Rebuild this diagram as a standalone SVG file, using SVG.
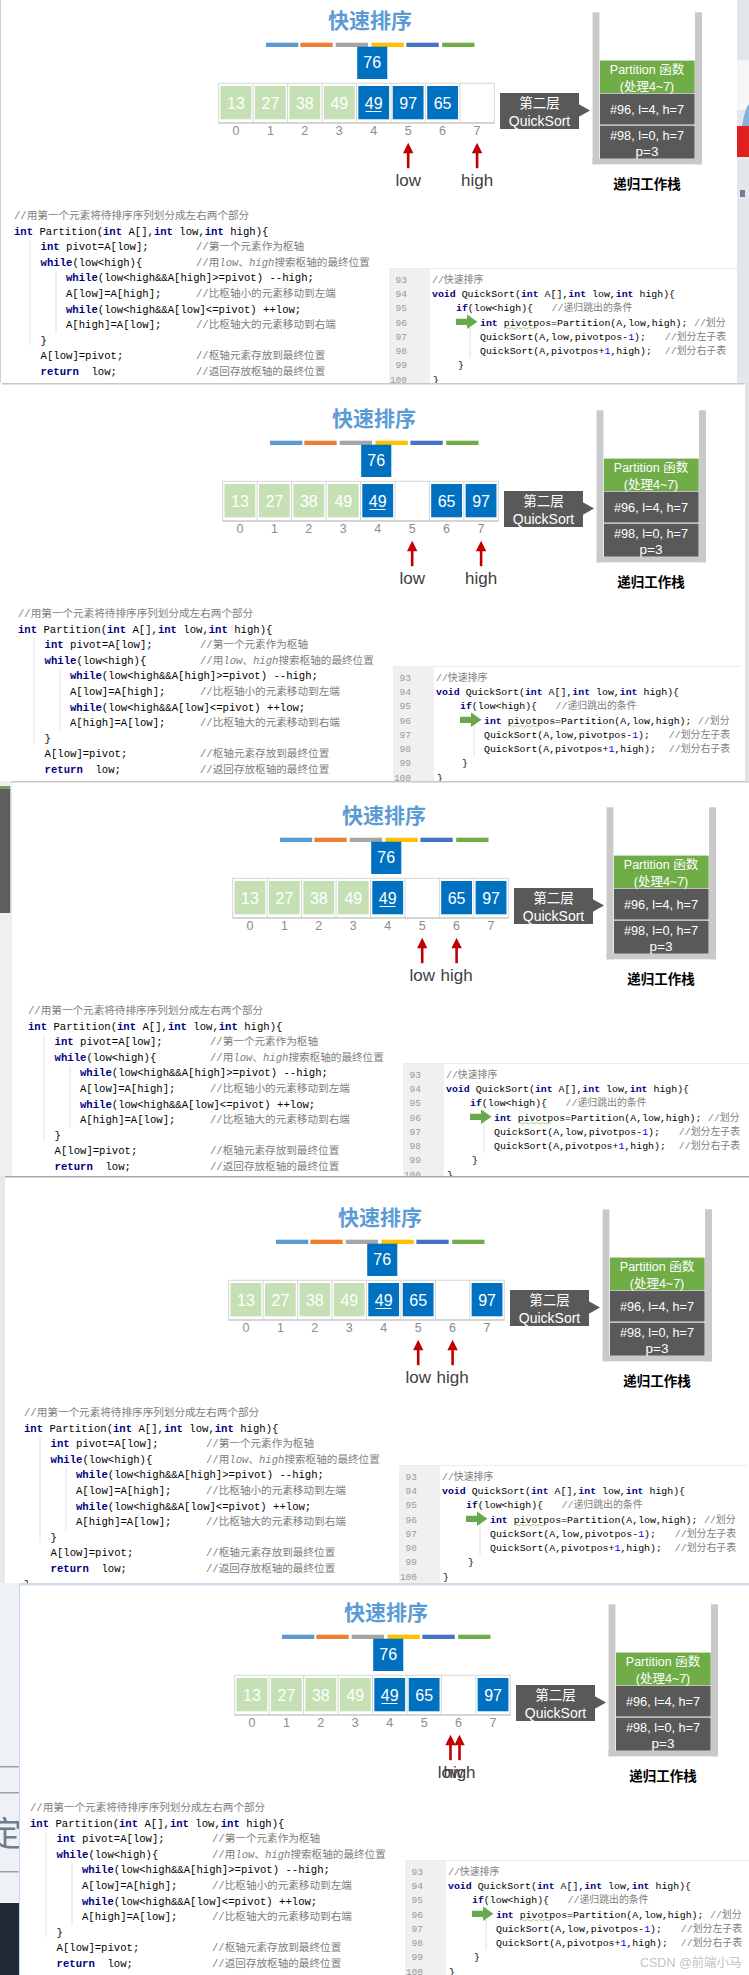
<svg xmlns="http://www.w3.org/2000/svg" xmlns:xlink="http://www.w3.org/1999/xlink" width="749" height="1975" viewBox="0 0 749 1975">
<style>
.sans{font-family:"Liberation Sans","Noto Sans CJK SC",sans-serif}
.title{font-family:"Noto Sans CJK SC",sans-serif;font-size:21px;font-weight:bold;fill:#5b9bd5;text-anchor:middle}
.num{font-family:"Liberation Sans",sans-serif;font-size:16px;fill:#fff;text-anchor:middle}
.idx{font-family:"Liberation Sans",sans-serif;font-size:12.5px;fill:#8c8c8c;text-anchor:middle}
.lbl{font-family:"Liberation Sans",sans-serif;font-size:17px;fill:#404040;text-anchor:middle}
.wt{font-family:"Liberation Sans","Noto Sans CJK SC",sans-serif;fill:#fff;text-anchor:middle}
.stk{font-family:"Noto Sans CJK SC",sans-serif;font-size:13.5px;font-weight:bold;fill:#000;text-anchor:middle}
.code{font-family:"Liberation Mono","Noto Sans CJK SC",monospace;font-size:10.6px;fill:#000;white-space:pre}
.code2{font-family:"Liberation Mono","Noto Sans CJK SC",monospace;font-size:9.9px;fill:#000;white-space:pre}
.kw{fill:#000080;font-weight:bold}
.cm{fill:#808080}
.it{font-style:italic}
.n{fill:#0000ff}
.ln{font-family:"Liberation Mono",monospace;font-size:9.5px;fill:#999;text-anchor:end}
.green{fill:#c5e0b4}
.blue{fill:#0070c0}
.dark{fill:#595959}
.arr{fill:#c00000}
.guide{stroke:#e2e2e2;stroke-width:1}
</style>
<defs>
  <clipPath id="c1"><rect x="0" y="0" width="737" height="383"/></clipPath>
  <clipPath id="c2"><rect x="2" y="383" width="743" height="398"/></clipPath>
  <clipPath id="c3"><rect x="10.5" y="781" width="738.5" height="395"/></clipPath>
  <clipPath id="c4"><rect x="5" y="1176" width="744" height="407"/></clipPath>
  <clipPath id="c5"><rect x="19" y="1583" width="730" height="392"/></clipPath>
  <clipPath id="cl5"><rect x="0" y="1583" width="19" height="392"/></clipPath>
  <g id="upArrow"><polygon points="0,0 -5.2,10.5 5.2,10.5"/><rect x="-1.3" y="9" width="2.6" height="16.5"/></g>
  <g id="tpl">
    <g id="title"><text class="title" x="370" y="28">快速排序</text></g>
    <g id="colorbars">
      <rect x="266" y="42.7" width="32.3" height="4.3" fill="#5b9bd5"/>
      <rect x="300.4" y="42.7" width="32.3" height="4.3" fill="#ed7d31"/>
      <rect x="335.7" y="42.7" width="32.3" height="4.3" fill="#a5a5a5"/>
      <rect x="371.5" y="42.7" width="32.3" height="4.3" fill="#ffc000"/>
      <rect x="406.4" y="42.7" width="32.3" height="4.3" fill="#4472c4"/>
      <rect x="442.2" y="42.7" width="32.3" height="4.3" fill="#70ad47"/>
    </g>
    <g id="pivot76"><rect class="blue" x="357.2" y="46.7" width="30.1" height="32.3"/><text class="num" x="372.2" y="67.5">76</text></g>
    <g id="array">
      <rect x="218.7" y="83.3" width="275.6" height="39.7" fill="#fff" stroke="#d6d6d6" stroke-width="1"/>
      <path d="M253.15 83.3V123M287.6 83.3V123M322.05 83.3V123M356.5 83.3V123M390.95 83.3V123M425.4 83.3V123M459.85 83.3V123" stroke="#d6d6d6" stroke-width="1"/>
      <line x1="218.7" y1="123" x2="494.3" y2="123" stroke="#bfbfbf" stroke-width="1"/>
    </g>
    <g id="cell0"><rect class="green" x="220.5" y="86" width="30.8" height="33.3"/><text class="num" x="235.9" y="109">13</text></g>
    <g id="cell1"><rect class="green" x="254.95" y="86" width="30.8" height="33.3"/><text class="num" x="270.4" y="109">27</text></g>
    <g id="cell2"><rect class="green" x="289.4" y="86" width="30.8" height="33.3"/><text class="num" x="304.8" y="109">38</text></g>
    <g id="cell3"><rect class="green" x="323.85" y="86" width="30.8" height="33.3"/><text class="num" x="339.3" y="109">49</text></g>
    <g id="cell4"><rect class="blue" x="358.3" y="86" width="30.8" height="33.3"/><text class="num" x="373.7" y="109">49</text><line x1="365.5" y1="111.5" x2="381.5" y2="111.5" stroke="#fff" stroke-width="1"/></g>
    <g id="indices">
      <text class="idx" x="235.9" y="134.5">0</text><text class="idx" x="270.4" y="134.5">1</text><text class="idx" x="304.8" y="134.5">2</text><text class="idx" x="339.3" y="134.5">3</text>
      <text class="idx" x="373.7" y="134.5">4</text><text class="idx" x="408.2" y="134.5">5</text><text class="idx" x="442.6" y="134.5">6</text><text class="idx" x="477.1" y="134.5">7</text>
    </g>
    <g id="callout">
      <rect class="dark" x="500" y="93" width="79" height="36"/>
      <polygon class="dark" points="578.5,104 590,110.5 578.5,117"/>
      <text class="wt" x="539.5" y="108" font-size="13.5">第二层</text>
      <text class="wt" x="539.5" y="125.5" font-size="14">QuickSort</text>
    </g>
    <g id="stack">
      <rect x="592.6" y="12.3" width="6.8" height="152" fill="#c9c9c9"/>
      <rect x="695" y="12.3" width="7" height="152" fill="#c9c9c9"/>
      <rect x="592.6" y="158.7" width="109.4" height="5.6" fill="#c9c9c9"/>
      <rect x="600" y="60.7" width="94.5" height="98" fill="#bfbfbf"/>
      <g id="frame-partition"><rect x="600" y="60.7" width="94.5" height="32.3" fill="#70ad47"/>
        <text class="wt" x="647" y="74" font-size="12.5">Partition 函数</text>
        <text class="wt" x="647" y="91" font-size="12.5">(处理4~7)</text></g>
      <g id="frame96"><rect class="dark" x="600" y="94" width="94.5" height="30.3"/>
        <text class="wt" x="647" y="114" font-size="13.5" textLength="74" lengthAdjust="spacingAndGlyphs">#96, l=4, h=7</text></g>
      <g id="frame98"><rect class="dark" x="600" y="126" width="94.5" height="32.5"/>
        <text class="wt" x="647" y="140" font-size="13.5" textLength="74" lengthAdjust="spacingAndGlyphs">#98, l=0, h=7</text>
        <text class="wt" x="647" y="155.5" font-size="13.5">p=3</text></g>
      <text class="stk" x="647" y="188.5">递归工作栈</text>
    </g>
    <g id="code-partition">
      <line class="guide" x1="56" y1="271" x2="56" y2="333"/>
      <line class="guide" x1="30" y1="240" x2="30" y2="345"/>
      <text class="code" x="14" y="219"><tspan class="cm">//用第一个元素将待排序序列划分成左右两个部分</tspan></text>
      <text class="code" x="14" y="234.6"><tspan class="kw">int</tspan> Partition(<tspan class="kw">int</tspan> A[],<tspan class="kw">int</tspan> low,<tspan class="kw">int</tspan> high){</text>
      <text class="code" x="40.6" y="250.2"><tspan class="kw">int</tspan> pivot=A[low];</text>
      <text class="code cm" x="196" y="250.2">//第一个元素作为枢轴</text>
      <text class="code" x="40.6" y="265.8"><tspan class="kw">while</tspan>(low&lt;high){</text>
      <text class="code cm" x="196" y="265.8">//用<tspan class="it">low</tspan>、<tspan class="it">high</tspan>搜索枢轴的最终位置</text>
      <text class="code" x="66" y="281.4"><tspan class="kw">while</tspan>(low&lt;high&amp;&amp;A[high]&gt;=pivot) --high;</text>
      <text class="code" x="66" y="297">A[low]=A[high];</text>
      <text class="code cm" x="196" y="297">//比枢轴小的元素移动到左端</text>
      <text class="code" x="66" y="312.6"><tspan class="kw">while</tspan>(low&lt;high&amp;&amp;A[low]&lt;=pivot) ++low;</text>
      <text class="code" x="66" y="328.2">A[high]=A[low];</text>
      <text class="code cm" x="196" y="328.2">//比枢轴大的元素移动到右端</text>
      <text class="code" x="40.6" y="343.8">}</text>
      <text class="code" x="40.6" y="359.4">A[low]=pivot;</text>
      <text class="code cm" x="196" y="359.4">//枢轴元素存放到最终位置</text>
      <text class="code" x="40.6" y="375"><tspan class="kw">return</tspan>  low;</text>
      <text class="code cm" x="196" y="375">//返回存放枢轴的最终位置</text>
      <text class="code" x="14" y="390.6">}</text>
    </g>
    <g id="code-quicksort">
      <rect x="389" y="268.5" width="41" height="130" fill="#f0f0f0"/>
      <line x1="389" y1="268.5" x2="737" y2="268.5" stroke="#ececec" stroke-width="1"/>
      <line class="guide" x1="470" y1="314" x2="470" y2="358"/>
      <text class="ln" x="407" y="282.8">93</text><text class="ln" x="407" y="297">94</text><text class="ln" x="407" y="311.3">95</text><text class="ln" x="407" y="325.5">96</text>
      <text class="ln" x="407" y="339.8">97</text><text class="ln" x="407" y="354">98</text><text class="ln" x="407" y="368.3">99</text><text class="ln" x="407" y="382.5">100</text>
      <text class="code2 cm" x="432" y="282.8">//快速排序</text>
      <text class="code2" x="432" y="297"><tspan class="kw">void</tspan> QuickSort(<tspan class="kw">int</tspan> A[],<tspan class="kw">int</tspan> low,<tspan class="kw">int</tspan> high){</text>
      <text class="code2" x="456" y="311.3"><tspan class="kw">if</tspan>(low&lt;high){</text>
      <text class="code2 cm" x="551.6" y="311.3">//递归跳出的条件</text>
      <text class="code2" x="480" y="325.5"><tspan class="kw">int</tspan> pivotpos=Partition(A,low,high);</text>
      <text class="code2 cm" x="694" y="325.5">//划分</text>
      <path d="M504 328.2q1.5 -1.5 3 0t3 0t3 0t3 0t3 0t3 0t3 0t3 0t3 0t3 0t3 0" fill="none" stroke="#7fbf5f" stroke-width="0.7"/>
      <text class="code2" x="480" y="339.8">QuickSort(A,low,pivotpos-<tspan class="n">1</tspan>);</text>
      <text class="code2 cm" x="664.8" y="339.8">//划分左子表</text>
      <text class="code2" x="480" y="354">QuickSort(A,pivotpos+<tspan class="n">1</tspan>,high);</text>
      <text class="code2 cm" x="664.8" y="354">//划分右子表</text>
      <text class="code2" x="458" y="368.3">}</text>
      <text class="code2" x="433" y="382.5">}</text>
      <polygon points="456,318.7 467,318.7 467,314.5 477.5,321.8 467,329 467,324.9 456,324.9" fill="#6aa84f"/>
    </g>
  </g>
</defs>

<rect x="0" y="0" width="749" height="1975" fill="#fff"/>
<g id="background-edges">
  <rect x="737" y="0" width="12" height="383" fill="#e3e7ec"/>
  <rect x="737" y="60" width="12" height="50" fill="#f4f6f8"/>
  <path d="M742 126 Q745 108 749 104 V126 Z" fill="#7fb2e0"/>
  <rect x="737" y="126" width="12" height="31" fill="#e0201e"/>
  <rect x="740" y="190" width="5" height="7" fill="#6e7f99"/>
  <rect x="745" y="383" width="4" height="398" fill="#e2e2e2"/>
  <rect x="0" y="781" width="10.5" height="395" fill="#efefef"/>
  <rect x="0" y="786" width="10.5" height="3" fill="#7a9a5a"/>
  <rect x="0" y="789" width="10.5" height="124" fill="#5e5e5e"/>
  <rect x="0" y="1176" width="5" height="407" fill="#e8e8e8"/>
  <rect x="0" y="1583" width="19" height="392" fill="#eef2f6"/>
  <rect x="0" y="1766" width="19" height="1.5" fill="#9aa3ad"/>
  <rect x="0" y="1792" width="19" height="1.5" fill="#9aa3ad"/>
  <rect x="0" y="1871" width="19" height="1.5" fill="#9aa3ad"/>
  <rect x="0" y="1903" width="19" height="72" fill="#1f2a36"/>
  <g clip-path="url(#cl5)"><text x="-12" y="1846" font-family="'Noto Sans CJK SC',sans-serif" font-size="34" fill="#6f7c8a">定</text></g>
</g>

<g id="panel1" clip-path="url(#c1)">
  <rect x="0" y="0" width="737" height="383" fill="#fff"/>
  <line x1="0.5" y1="0" x2="0.5" y2="383" stroke="#d0d0d0"/>
  <use xlink:href="#tpl" href="#tpl"/>
  <g id="p1-cells">
    <g id="p1-cell5"><rect class="blue" x="392.75" y="86" width="30.8" height="33.3"/><text class="num" x="408.2" y="109">97</text></g>
    <g id="p1-cell6"><rect class="blue" x="427.2" y="86" width="30.8" height="33.3"/><text class="num" x="442.6" y="109">65</text></g>
  </g>
  <g id="p1-connectors" class="arr">
    <use xlink:href="#upArrow" href="#upArrow" transform="translate(408.2,142.7)"/>
    <use xlink:href="#upArrow" href="#upArrow" transform="translate(477.1,142.7)"/>
  </g>
  <g id="p1-labels"><text class="lbl" x="408.2" y="185.5">low</text><text class="lbl" x="477.1" y="185.5">high</text></g>
</g>

<g id="panel2" clip-path="url(#c2)">
  <rect x="2" y="383" width="743" height="398" fill="#fff"/>
  <rect x="2" y="383" width="743" height="1.5" fill="#c8c8c8"/>
  <g transform="translate(4,398)">
    <use xlink:href="#tpl" href="#tpl"/>
    <g id="p2-cells">
      <g id="p2-cell6"><rect class="blue" x="427.2" y="86" width="30.8" height="33.3"/><text class="num" x="442.6" y="109">65</text></g>
      <g id="p2-cell7"><rect class="blue" x="461.65" y="86" width="30.8" height="33.3"/><text class="num" x="477.1" y="109">97</text></g>
    </g>
    <g id="p2-connectors" class="arr">
      <use xlink:href="#upArrow" href="#upArrow" transform="translate(408.2,142.7)"/>
      <use xlink:href="#upArrow" href="#upArrow" transform="translate(477.1,142.7)"/>
    </g>
    <g id="p2-labels"><text class="lbl" x="408.2" y="185.5">low</text><text class="lbl" x="477.1" y="185.5">high</text></g>
  </g>
</g>

<g id="panel3" clip-path="url(#c3)">
  <rect x="10.5" y="781" width="738.5" height="395" fill="#fff"/>
  <rect x="10.5" y="781" width="738.5" height="1.5" fill="#c8c8c8"/>
  <line x1="11" y1="781" x2="11" y2="1176" stroke="#d8d8d8"/>
  <g transform="translate(14,795)">
    <use xlink:href="#tpl" href="#tpl"/>
    <g id="p3-cells">
      <g id="p3-cell6"><rect class="blue" x="427.2" y="86" width="30.8" height="33.3"/><text class="num" x="442.6" y="109">65</text></g>
      <g id="p3-cell7"><rect class="blue" x="461.65" y="86" width="30.8" height="33.3"/><text class="num" x="477.1" y="109">97</text></g>
    </g>
    <g id="p3-connectors" class="arr">
      <use xlink:href="#upArrow" href="#upArrow" transform="translate(408.2,142.7)"/>
      <use xlink:href="#upArrow" href="#upArrow" transform="translate(442.6,142.7)"/>
    </g>
    <g id="p3-labels"><text class="lbl" x="408.2" y="185.5">low</text><text class="lbl" x="442.6" y="185.5">high</text></g>
  </g>
</g>

<g id="panel4" clip-path="url(#c4)">
  <rect x="5" y="1176" width="744" height="407" fill="#fff"/>
  <rect x="5" y="1176" width="744" height="1.5" fill="#a8a8a8"/>
  <g transform="translate(10,1197)">
    <use xlink:href="#tpl" href="#tpl"/>
    <g id="p4-cells">
      <g id="p4-cell5"><rect class="blue" x="392.75" y="86" width="30.8" height="33.3"/><text class="num" x="408.2" y="109">65</text></g>
      <g id="p4-cell7"><rect class="blue" x="461.65" y="86" width="30.8" height="33.3"/><text class="num" x="477.1" y="109">97</text></g>
    </g>
    <g id="p4-connectors" class="arr">
      <use xlink:href="#upArrow" href="#upArrow" transform="translate(408.2,142.7)"/>
      <use xlink:href="#upArrow" href="#upArrow" transform="translate(442.6,142.7)"/>
    </g>
    <g id="p4-labels"><text class="lbl" x="408.2" y="185.5">low</text><text class="lbl" x="442.6" y="185.5">high</text></g>
  </g>
</g>

<g id="panel5" clip-path="url(#c5)">
  <rect x="19" y="1583" width="730" height="392" fill="#fff"/>
  <rect x="19" y="1583" width="730" height="2.5" fill="#cddcf0"/>
  <line x1="19.5" y1="1583" x2="19.5" y2="1975" stroke="#c9d8ec"/>
  <g transform="translate(16,1592)">
    <use xlink:href="#tpl" href="#tpl"/>
    <g id="p5-cells">
      <g id="p5-cell5"><rect class="blue" x="392.75" y="86" width="30.8" height="33.3"/><text class="num" x="408.2" y="109">65</text></g>
      <g id="p5-cell7"><rect class="blue" x="461.65" y="86" width="30.8" height="33.3"/><text class="num" x="477.1" y="109">97</text></g>
    </g>
    <g id="p5-connectors" class="arr">
      <use xlink:href="#upArrow" href="#upArrow" transform="translate(434.5,142.7)"/>
      <use xlink:href="#upArrow" href="#upArrow" transform="translate(443.5,142.7)"/>
    </g>
    <g id="p5-labels"><text class="lbl" x="434.5" y="185.5">low</text><text class="lbl" x="443.5" y="185.5">high</text></g>
  </g>
  <text x="640" y="1967" font-family="'Liberation Sans','Noto Sans CJK SC',sans-serif" font-size="12.5" fill="#c4c4c4">CSDN @前端小马</text>
</g>
</svg>
